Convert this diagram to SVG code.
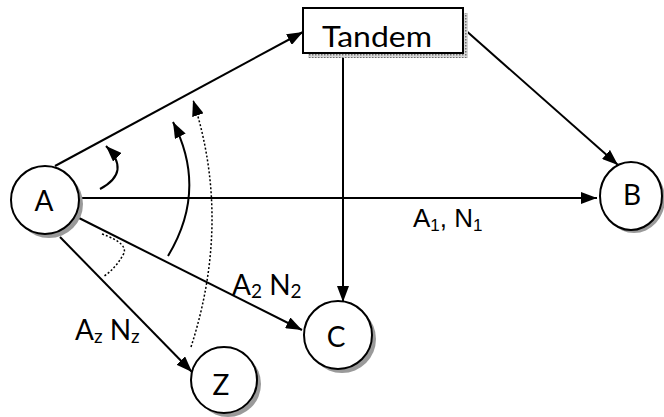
<svg xmlns="http://www.w3.org/2000/svg" width="664" height="417" viewBox="0 0 664 417">
<style>
.node{fill:#fff;stroke:#000;stroke-width:2}
.shadow{fill:#9a9a9a}
.lbl{font-family:"Lato","Open Sans","DejaVu Sans",sans-serif;font-size:28px;fill:#000}
.elbl{font-family:"Liberation Sans",Arial,sans-serif;font-size:26px;fill:#000}
.edge{fill:none;stroke:#000;stroke-width:2}
.dot{fill:none;stroke:#000;stroke-width:1.5;stroke-dasharray:2,2}
</style>
<defs>
<marker id="ah" markerWidth="16" markerHeight="12" refX="16" refY="6" orient="auto" markerUnits="userSpaceOnUse"><path d="M0,0 L16,6 L0,12 z" fill="#000"/></marker>
<pattern id="dith" width="3" height="3" patternUnits="userSpaceOnUse"><rect width="3" height="3" fill="#d8d8d8"/><rect width="1.5" height="1.5" fill="#707070"/></pattern>
</defs>
<g id="connectors">
<line class="edge" x1="55" y1="166" x2="303" y2="32" marker-end="url(#ah)"/>
<line class="edge" x1="79" y1="198" x2="597" y2="198" marker-end="url(#ah)"/>
<line class="edge" x1="77" y1="217" x2="302" y2="330" marker-end="url(#ah)"/>
<line class="edge" x1="60" y1="237" x2="192" y2="372" marker-end="url(#ah)"/>
<line class="edge" x1="343" y1="53" x2="343" y2="302" marker-end="url(#ah)"/>
<line class="edge" x1="463" y1="28" x2="618" y2="165" marker-end="url(#ah)"/>
<path class="edge" d="M100,189 Q132,172 106,146" marker-end="url(#ah)"/>
<path class="edge" d="M168,256 Q208,190 173,122" marker-end="url(#ah)"/>
<path class="dot" d="M191,347 Q232,220 193,100" marker-end="url(#ah)"/>
<path class="dot" d="M102,234 Q130,244 123,255 Q116,268 103,277"/>
<text class="elbl" x="413" y="227">A<tspan font-size="17" dy="4">1</tspan><tspan dy="-4">, N</tspan><tspan font-size="17" dy="4">1</tspan></text>
<text class="lbl" x="232" y="295">A<tspan font-size="19" dy="3">2</tspan><tspan dy="-3"> N</tspan><tspan font-size="19" dy="3">2</tspan></text>
<text class="lbl" x="75" y="340">A<tspan font-size="19" dy="3">z</tspan><tspan dy="-3"> N</tspan><tspan font-size="19" dy="3">z</tspan></text>
</g>
<g id="node-tandem">
<rect x="308" y="13" width="160" height="45" fill="url(#dith)"/>
<rect class="node" x="303" y="8" width="160" height="45"/>
<text class="lbl" x="322" y="47" font-size="32" textLength="110" lengthAdjust="spacingAndGlyphs">Tandem</text>
</g>
<g id="node-A">
<circle class="shadow" cx="49" cy="204" r="34"/>
<circle class="node" cx="45" cy="200" r="34"/>
<text class="lbl" x="44" y="211" text-anchor="middle">A</text>
</g>
<g id="node-B">
<ellipse class="shadow" cx="634" cy="199" rx="31" ry="34"/>
<ellipse class="node" cx="631" cy="196" rx="31" ry="34"/>
<text class="lbl" x="632" y="205" text-anchor="middle">B</text>
</g>
<g id="node-C">
<circle class="shadow" cx="342" cy="339" r="34"/>
<circle class="node" cx="338" cy="335" r="34"/>
<text class="lbl" x="336" y="347" text-anchor="middle">C</text>
</g>
<g id="node-Z">
<circle class="shadow" cx="228" cy="384" r="33"/>
<circle class="node" cx="224" cy="380" r="33"/>
<text class="lbl" x="221" y="395" text-anchor="middle">Z</text>
</g>
</svg>
